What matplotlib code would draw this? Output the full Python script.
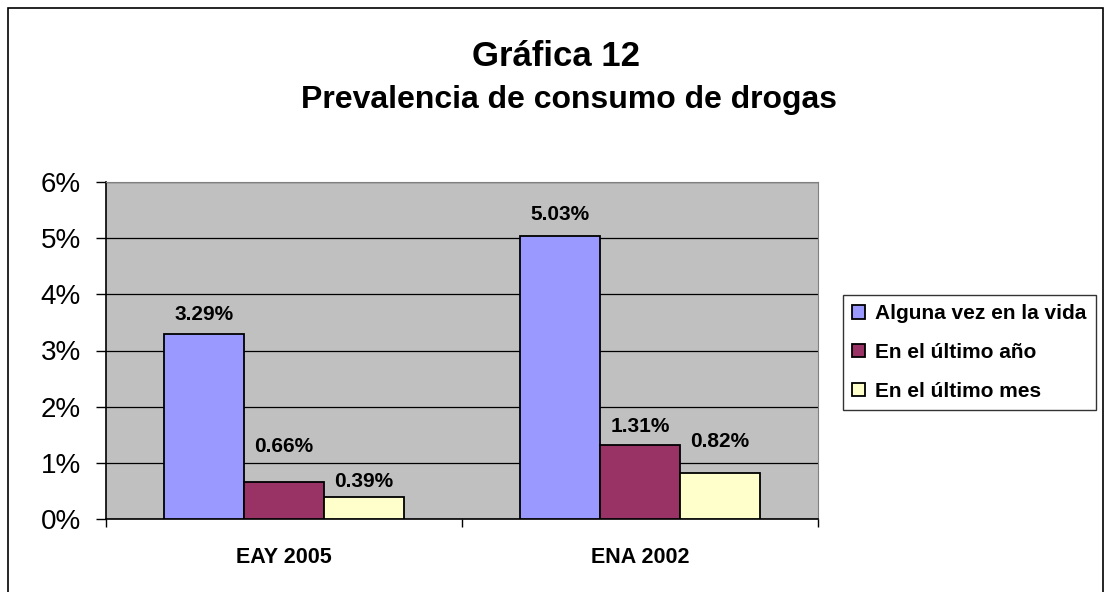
import matplotlib.pyplot as plt
import numpy as np
from matplotlib.patches import Rectangle

plt.rcParams['font.family'] = ['Liberation Sans', 'DejaVu Sans']

categories = ["EAY 2005", "ENA 2002"]
series_names = ["Alguna vez en la vida", "En el último año", "En el último mes"]
alguna_vez = [3.29, 5.03]
ultimo_anio = [0.66, 1.31]
ultimo_mes = [0.39, 0.82]
series_values = [alguna_vez, ultimo_anio, ultimo_mes]
colors = ["#9999FF", "#993366", "#FFFFCC"]
# separacion (px) entre la etiqueta y el tope de cada barra, como en el original
label_gap = [[9, 11], [25, 8], [5, 21]]

W, H = 1105, 592
fig = plt.figure(figsize=(W / 100, H / 100), dpi=100, facecolor="white")

# marco exterior del grafico
fig.patches.append(Rectangle((8 / W, -0.01), (1103 - 8) / W, (H - 8) / H + 0.01,
                             transform=fig.transFigure, fill=False,
                             edgecolor="black", linewidth=1.2))

left, right, top, bottom = 106, 818, 182, 519
ax = fig.add_axes([left / W, 1 - bottom / H, (right - left) / W, (bottom - top) / H])
ax.set_facecolor("#C0C0C0")

x = np.arange(len(categories))
bar_w = 0.225
for i, (name, vals, col) in enumerate(zip(series_names, series_values, colors)):
    pos = x + (i - 1) * bar_w
    ax.bar(pos, vals, width=bar_w, color=col, edgecolor="black", linewidth=1.3,
           label=name, zorder=3)
    for p, v, g in zip(pos, vals, label_gap[i]):
        ax.annotate(f"{v:.2f}%", (p, v), xytext=(0, g * 0.72 + 1),
                    textcoords="offset points", ha="center", va="bottom",
                    fontsize=15, fontweight="bold", zorder=4)

ax.set_xlim(-0.5, 1.5)
ax.set_ylim(0, 6)
ax.set_yticks(range(0, 7))
ax.set_yticklabels([f"{t}%" for t in range(0, 7)], fontsize=20)
ax.yaxis.grid(True, color="black", linewidth=0.9, zorder=0)
ax.set_axisbelow(True)

ax.set_xticks(x)
ax.set_xticklabels(categories, fontsize=15.5, fontweight="bold")
ax.tick_params(axis="x", length=0, pad=20)
ax.tick_params(axis="y", length=7.2, width=1, pad=11)
# marcas entre categorias
ax.set_xticks([-0.5, 0.5, 1.5], minor=True)
ax.tick_params(axis="x", which="minor", length=6, width=1)

for s in ["top", "right"]:
    ax.spines[s].set_color("#808080")
for s in ["left", "bottom"]:
    ax.spines[s].set_color("black")
    ax.spines[s].set_linewidth(1.2)

leg = fig.legend(loc="upper left", bbox_to_anchor=(843 / W, 1 - 295 / H),
                 fontsize=15, frameon=True, fancybox=False, edgecolor="black",
                 handlelength=0.6, handleheight=0.6, handletextpad=0.5,
                 labelspacing=0.95, borderpad=0.45, borderaxespad=0)
for t in leg.get_texts():
    t.set_fontweight("bold")
leg.get_frame().set_linewidth(1.0)

fig.text(556 / W, 1 - 66 / H, "Gráfica 12", ha="center", va="baseline",
         fontsize=25, fontweight="bold")
fig.text(569 / W, 1 - 108 / H, "Prevalencia de consumo de drogas", ha="center",
         va="baseline", fontsize=23, fontweight="bold")

fig.savefig("out.png", dpi=100, facecolor="white")
